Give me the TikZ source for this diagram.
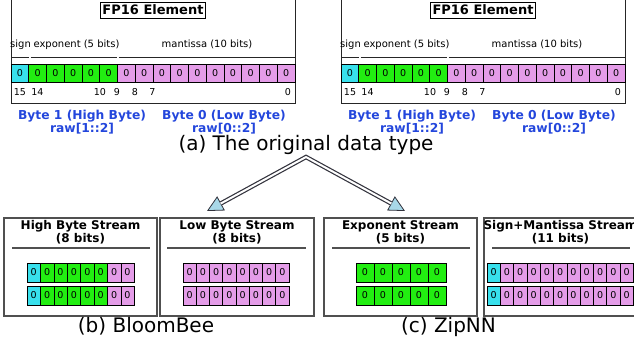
\documentclass[tikz,border=0pt]{standalone}
\usepackage{fontspec}
\setmainfont{DejaVu Sans}
\usetikzlibrary{arrows.meta,calc}
\definecolor{signc}{RGB}{56,224,236}
\definecolor{expc}{RGB}{34,238,17}
\definecolor{mantc}{RGB}{228,156,232}
\definecolor{bluetxt}{RGB}{35,70,220}
\definecolor{arrowfill}{RGB}{168,216,232}
\definecolor{boxgray}{RGB}{80,80,80}
\definecolor{arrowdark}{RGB}{50,50,60}
\newcommand{\bitrow}[6]{%
  \foreach \c [count=\i from 0] in {#6} {
    \node[cellbox, fill=\c, minimum width=#4pt, minimum height=#5pt] (#1-\i) at ({#2+(\i+0.5)*#4}, #3) {0};
  }%
}
\begin{document}
\begin{tikzpicture}[x=1pt,y=-1pt,
  every node/.style={inner sep=0pt, outer sep=0pt},
  cellbox/.style={draw=black, line width=0.6pt, inner sep=0pt, font=\fontsize{9.5}{9.5}\selectfont},
  lbl/.style={font=\fontsize{10}{12}\selectfont, anchor=base},
  idx/.style={font=\fontsize{9.5}{10}\selectfont, anchor=base},
  bluelbl/.style={font=\bfseries\fontsize{12.3}{14}\selectfont, text=bluetxt, anchor=base},
  captiontxt/.style={font=\fontsize{20}{24}\selectfont, anchor=base},
  streamtitle/.style={font=\bfseries\fontsize{12}{14}\selectfont, anchor=base},
  streambox/.style={draw=boxgray, line width=1.2pt},
  rulebar/.style={draw=boxgray, line width=1.2pt},
  bracebar/.style={draw=black!85, line width=0.9pt},
  frame/.style={draw=black!85, line width=0.9pt},
  titlebox/.style={draw=black, fill=white, line width=0.8pt, inner xsep=2pt, inner ysep=3pt, font=\bfseries\fontsize{13}{15}\selectfont}
]
\useasboundingbox (0,0) rectangle (634,343);
\clip (0,0) rectangle (634,343);

% ---------- two FP16 panels ----------
\foreach \ox/\p in {0/a,330/r} {
\begin{scope}[xshift=\ox pt]
  \draw[frame] (11,-3) -- (11,103) -- (295,103) -- (295,-3);
  \node[titlebox] (\p-title) at (153,10) {FP16 Element};
  \node[lbl] (\p-sign) at (20.5,47) {sign};
  \node[lbl] (\p-exp) at (76.5,47) {exponent (5 bits)};
  \node[lbl] (\p-man) at (207,47) {mantissa (10 bits)};
  \draw[bracebar] (11,57) -- (29,57);
  \draw[bracebar] (30.5,57) -- (116.5,57);
  \draw[bracebar] (118.5,57) -- (295,57);
  \bitrow{\p-bit}{11}{73}{17.75}{18}{signc,expc,expc,expc,expc,expc,mantc,mantc,mantc,mantc,mantc,mantc,mantc,mantc,mantc,mantc}
  \node[idx] (\p-i15) at (20,95) {15};
  \node[idx] (\p-i14) at (37.5,95) {14};
  \node[idx] (\p-i10) at (100,95) {10};
  \node[idx] (\p-i9) at (117,95) {9};
  \node[idx] (\p-i8) at (135,95) {8};
  \node[idx] (\p-i7) at (152.5,95) {7};
  \node[idx] (\p-i0) at (288,95) {0};
  \node[bluelbl] (\p-hb) at (82,119) {Byte 1 (High Byte)};
  \node[bluelbl] (\p-hr) at (82,132) {raw[1::2]};
  \node[bluelbl] (\p-lb) at (224,119) {Byte 0 (Low Byte)};
  \node[bluelbl] (\p-lr) at (224,132) {raw[0::2]};
\end{scope}
}

\node[captiontxt] (capa) at (306,150) {(a) The original data type};

% ---------- arrows ----------
\coordinate (apex) at (306,157);
\coordinate (tipb) at (207,211);
\coordinate (tipc) at (405,211);
\draw[arrowdark, line width=4.4pt, line join=miter,
  {Triangle[length=16pt,width=16pt,fill=arrowfill,line width=0.8pt]}-{Triangle[length=16pt,width=16pt,fill=arrowfill,line width=0.8pt]}]
  (tipb) -- (apex) -- (tipc);
\draw[white, line width=2pt, line join=miter, shorten <=15.5pt, shorten >=15.5pt]
  (tipb) -- (apex) -- (tipc);

% ---------- stream boxes ----------
\draw[streambox] (4,218) rectangle (157,316);
\draw[streambox] (160,218) rectangle (314,316);
\draw[streambox] (324,218) rectangle (477,316);
\draw[streambox] (484,218) rectangle (637,316);

\node[streamtitle] (t1) at (80.5,229) {High Byte Stream};
\node[streamtitle] (t1b) at (80.5,242) {(8 bits)};
\node[streamtitle] (t2) at (237,229) {Low Byte Stream};
\node[streamtitle] (t2b) at (237,242) {(8 bits)};
\node[streamtitle] (t3) at (400.5,229) {Exponent Stream};
\node[streamtitle] (t3b) at (400.5,242) {(5 bits)};
\node[streamtitle] (t4) at (560.5,229) {Sign+Mantissa Stream};
\node[streamtitle] (t4b) at (560.5,242) {(11 bits)};

\draw[rulebar] (12,248) -- (150,248);
\draw[rulebar] (167,248) -- (306,248);
\draw[rulebar] (332,248) -- (470,248);
\draw[rulebar] (492,248) -- (630,248);

\bitrow{hb1}{27}{272.5}{13.4}{19}{signc,expc,expc,expc,expc,expc,mantc,mantc}
\bitrow{hb2}{27}{295.5}{13.4}{19}{signc,expc,expc,expc,expc,expc,mantc,mantc}
\bitrow{lb1}{183}{272.5}{13.25}{19}{mantc,mantc,mantc,mantc,mantc,mantc,mantc,mantc}
\bitrow{lb2}{183}{295.5}{13.25}{19}{mantc,mantc,mantc,mantc,mantc,mantc,mantc,mantc}
\bitrow{ex1}{356}{272.5}{18}{19}{expc,expc,expc,expc,expc}
\bitrow{ex2}{356}{295.5}{18}{19}{expc,expc,expc,expc,expc}
\bitrow{sm1}{487}{272.5}{13.3}{19}{signc,mantc,mantc,mantc,mantc,mantc,mantc,mantc,mantc,mantc,mantc}
\bitrow{sm2}{487}{295.5}{13.3}{19}{signc,mantc,mantc,mantc,mantc,mantc,mantc,mantc,mantc,mantc,mantc}

\node[captiontxt] (capb) at (146,332) {(b) BloomBee};
\node[captiontxt] (capc) at (448.5,332) {(c) ZipNN};
\end{tikzpicture}
\end{document}
